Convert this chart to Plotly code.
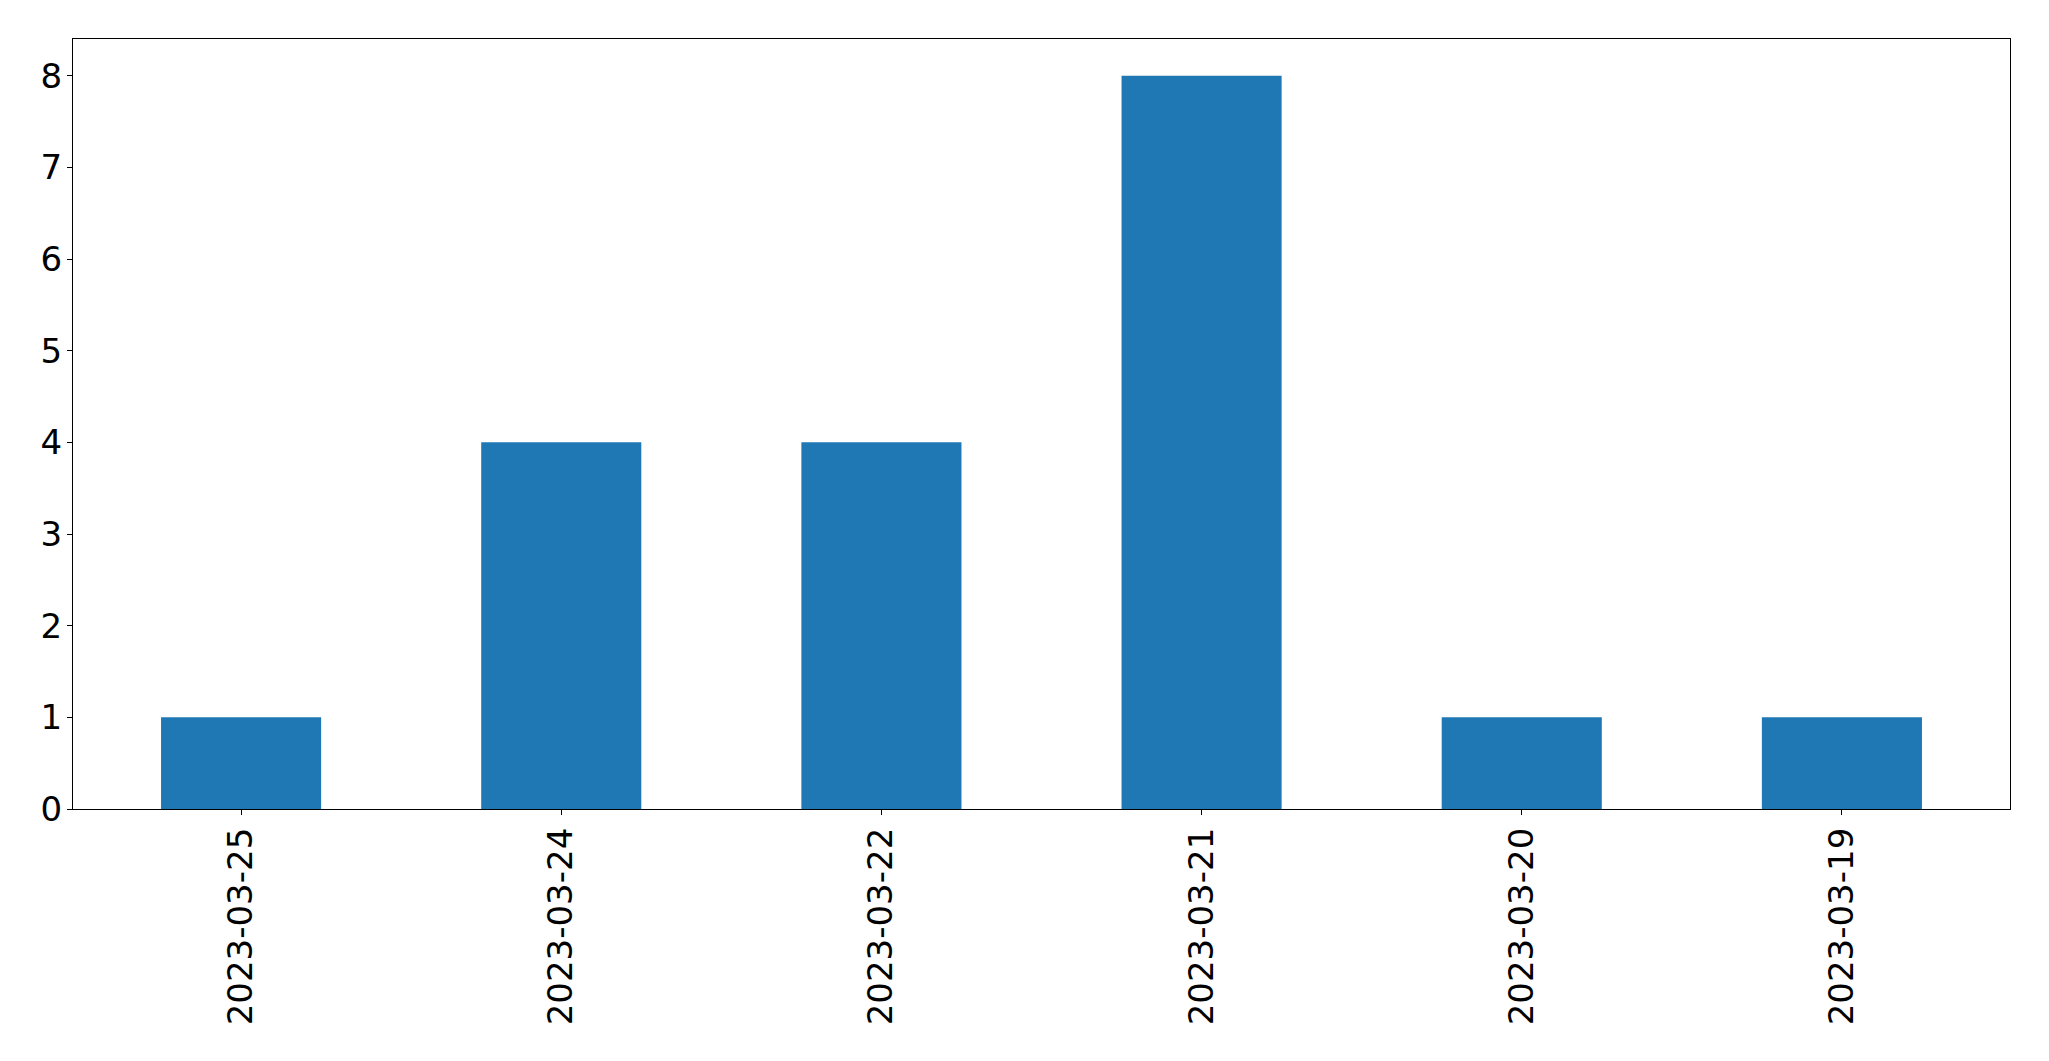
import plotly.graph_objects as go

dates = ["2023-03-25", "2023-03-24", "2023-03-22", "2023-03-21", "2023-03-20", "2023-03-19"]
counts = [1, 4, 4, 8, 1, 1]

fig = go.Figure(go.Bar(
    x=list(range(len(dates))), y=counts, width=0.5,
    marker=dict(color="#1f77b4", line=dict(width=0)),
))

fig.update_layout(
    width=2033, height=1045,
    margin=dict(l=65, r=31, t=31, b=244, pad=0),
    paper_bgcolor="white", plot_bgcolor="white",
    font=dict(family="DejaVu Sans", size=34, color="black"),
    showlegend=False,
)
tf = dict(family="DejaVu Sans", size=34, color="black")
fig.update_xaxes(
    range=[-0.525, 5.525], tickmode="array",
    tickvals=list(range(len(dates))), ticktext=dates, tickangle=-90,
    tickfont=tf, automargin=False,
    showgrid=False, zeroline=False,
    showline=True, linecolor="black", linewidth=1.3, mirror=True,
    ticks="outside", ticklen=5, tickwidth=1.3, tickcolor="black",
    ticklabelstandoff=-1,
)
fig.update_yaxes(
    range=[0, 8.4], tickmode="array", tickvals=list(range(0, 9)),
    tickfont=tf, automargin=False,
    showgrid=False, zeroline=False,
    showline=True, linecolor="black", linewidth=1.3, mirror=True,
    ticks="outside", ticklen=5, tickwidth=1.3, tickcolor="black",
    ticklabelstandoff=-2,
)
fig.write_html("out.html")
